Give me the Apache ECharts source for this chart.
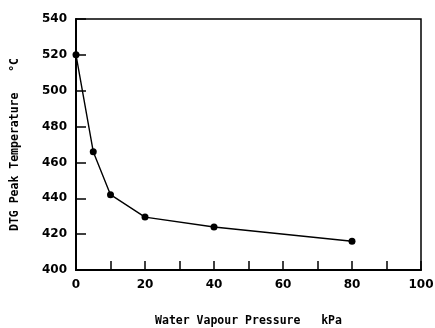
<!DOCTYPE html>
<html>
<head>
<meta charset="utf-8">
<script src="https://cdn.jsdelivr.net/npm/echarts@6/dist/echarts.min.js"></script>
<style>
  html, body { margin: 0; padding: 0; background: #fff; }
  #chart { width: 435px; height: 328px; }
</style>
</head>
<body>
<div id="chart"></div>
<script>
// values
const pressure = [0, 5, 10, 20, 40, 80]
const dtgPeak = [520, 466, 442, 429.5, 424, 416]
const xTicks = [0, 20, 40, 60, 80, 100]
const yTicks = [400, 420, 440, 460, 480, 500, 520, 540]

const labelFont = { color: '#000', fontFamily: 'DejaVu Sans', fontWeight: 'bold', fontSize: 12 }
const titleFont = { color: '#000', fontFamily: 'DejaVu Sans Mono', fontWeight: 'bold', fontSize: 11.5 }

const chart = echarts.init(document.getElementById('chart'), undefined, { renderer: 'canvas' })

chart.setOption({
  backgroundColor: '#fff',
  animation: false,
  grid: {
    left: 76,
    right: 14,
    top: 19,
    bottom: 58,
    outerBoundsMode: 'none',
    show: true,
    borderColor: '#000',
    borderWidth: 1.5,
  },
  xAxis: {
    type: 'value',
    min: xTicks[0],
    max: xTicks[xTicks.length - 1],
    interval: 10,
    name: 'Water Vapour Pressure   kPa',
    nameLocation: 'middle',
    nameGap: 45,
    nameTextStyle: titleFont,
    axisLine: { lineStyle: { color: '#000', width: 2 } },
    axisTick: { inside: true, length: 9, lineStyle: { color: '#000', width: 1.5 } },
    axisLabel: {
      ...labelFont,
      margin: 9,
      formatter: (v) => (xTicks.includes(v) ? String(v) : ''),
    },
    splitLine: { show: false },
  },
  yAxis: {
    type: 'value',
    min: yTicks[0],
    max: yTicks[yTicks.length - 1],
    interval: 20,
    name: 'DTG Peak Temperature   \u00b0C',
    nameLocation: 'middle',
    nameGap: 55,
    nameTextStyle: titleFont,
    axisLine: { lineStyle: { color: '#000', width: 2 } },
    axisTick: { inside: true, length: 10, lineStyle: { color: '#000', width: 1.5 } },
    axisLabel: { ...labelFont, margin: 9 },
    splitLine: { show: false },
  },
  series: [
    {
      type: 'line',
      data: pressure.map((p, i) => [p, dtgPeak[i]]),
      symbol: 'circle',
      symbolSize: 7,
      itemStyle: { color: '#000' },
      lineStyle: { color: '#000', width: 1.4 },
    },
  ],
})
</script>
</body>
</html>
